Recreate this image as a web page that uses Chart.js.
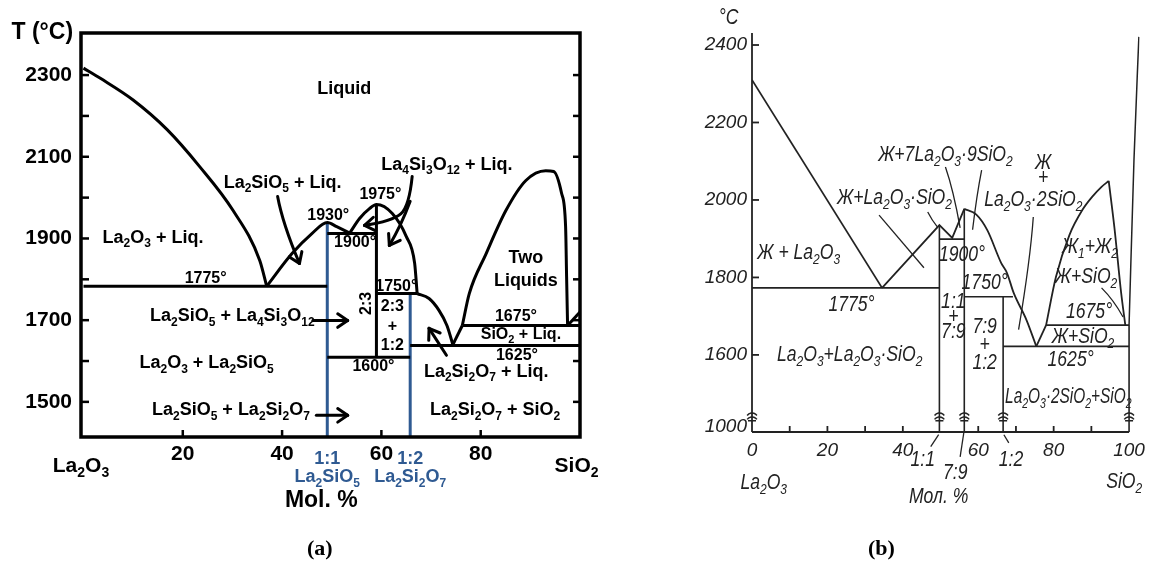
<!DOCTYPE html>
<html>
<head>
<meta charset="utf-8">
<title>La2O3–SiO2 phase diagrams</title>
<script src="https://cdn.jsdelivr.net/npm/chart.js@4.4.1/dist/chart.umd.min.js"></script>
<style>
  html, body { margin: 0; padding: 0; background: #fff; }
  #wrap { position: relative; width: 1152px; height: 572px; overflow: hidden; }
  .panel { position: absolute; top: 0; height: 572px; }
  #panelA { left: 0; width: 600px; }
  #panelB { left: 620px; width: 532px; }
  .tag { position: absolute; top: 535px; font: bold 22px "Liberation Serif", "Times New Roman", serif; }
</style>
</head>
<body>
<div id="wrap">
  <div class="panel" id="panelA"><canvas id="chartA"></canvas></div>
  <div class="panel" id="panelB"><canvas id="chartB"></canvas></div>
  <div class="tag" style="left:307px">(a)</div>
  <div class="tag" style="left:868px">(b)</div>
</div>
<script>
// ---- panel (a): mol.% SiO2 vs T (°C)
const xTicksA = [20, 40, 60, 80];
const yTicksA = [1500, 1700, 1900, 2100, 2300];
const yMinorA = [1600, 1800, 2000, 2200];

const liqLa2O3A = [[0, 2317], [3.4, 2292], [10, 2239], [16.8, 2167], [23.4, 2076], [30.1, 1969], [35.5, 1846], [36.9, 1783]];
const liqLa2SiO5A = [[36.9, 1783], [42, 1863], [46, 1912], [49.1, 1939], [51, 1929], [53.6, 1913]];
const liqLa4Si3O12A = [[53.6, 1913], [55.6, 1949], [57.6, 1973], [59, 1983], [62.2, 1961], [65, 1905], [66.7, 1839], [67.2, 1765]];
const liqLa2Si2O7A = [[67.2, 1765], [69.6, 1753], [71.6, 1724], [73.2, 1687], [74.4, 1640]];
const riseA = [[74.4, 1640], [76.3, 1687]];
const domeA = [[76.3, 1687], [77.7, 1765], [81.1, 1863], [85.1, 1969], [89.1, 2042], [93.1, 2066], [94.7, 2064], [96.3, 2010], [97.1, 1929], [97.3, 1807], [97.5, 1687]];
const liqSiO2A = [[97.5, 1687], [100, 1720]];
const iso1775A = [[0, 1783], [49.1, 1783]];
const iso1900A = [[49.1, 1912], [59, 1912]];
const iso1750A = [[59, 1765], [67.2, 1765]];
const iso1600A = [[49.1, 1609], [65.8, 1609]];
const iso1675A = [[76.3, 1687], [100, 1687]];
const iso1625A = [[65.8, 1638], [100, 1638]];
const comp23A = [[59, 1983], [59, 1609]];
const comp11A = [[49.1, 1414], [49.1, 1939]];
const comp12A = [[65.8, 1414], [65.8, 1765]];

const textsA = [
  ['T (°C)', -8.3, 2403, 'title'],
  ['Liquid', 52.5, 2265, 'region'],
  ['La_2O_3 + Liq.', 14, 1902, 'region'],
  ['1775°', 24.6, 1802, 'temp'],
  ['La_2SiO_5 + Liq.', 40.1, 2035, 'region'],
  ['1930°', 49.3, 1956, 'temp'],
  ['1975°', 59.8, 2008, 'temp'],
  ['1900°', 54.7, 1890, 'temp'],
  ['La_4Si_3O_12 + Liq.', 73.2, 2079, 'region'],
  ['Two', 89.1, 1851, 'region'],
  ['Liquids', 89.1, 1797, 'region'],
  ['1675°', 87.1, 1709, 'temp'],
  ['SiO_2 + Liq.', 88.1, 1665, 'small'],
  ['1625°', 87.3, 1614, 'temp'],
  ['La_2Si_2O_7 + Liq.', 81.1, 1574, 'region'],
  ['La_2Si_2O_7 + SiO_2', 82.9, 1479, 'region'],
  ['1750°', 63, 1782, 'temp'],
  ['2:3', 57, 1741, 'tempRot'],
  ['2:3', 62.2, 1734, 'temp'],
  ['+', 62.2, 1685, 'temp'],
  ['1:2', 62.2, 1638, 'temp'],
  ['1600°', 58.4, 1587, 'temp'],
  ['La_2SiO_5 + La_4Si_3O_12', 13.4, 1709, 'regionLeft'],
  ['La_2O_3 + La_2SiO_5', 24.8, 1594, 'region'],
  ['La_2SiO_5 + La_2Si_2O_7', 13.8, 1479, 'regionLeft'],
  ['La_2O_3', -0.5, 1342, 'end'],
  ['SiO_2', 99.3, 1342, 'end'],
  ['1:1', 49.1, 1361, 'blue'],
  ['La_2SiO_5', 49.1, 1315, 'blue'],
  ['1:2', 65.8, 1361, 'blue'],
  ['La_2Si_2O_7', 65.8, 1315, 'blue'],
  ['Mol. %', 47.9, 1259, 'title']
];

const arrowsA = [
  [[39.1, 2003], [40.1, 1937], [43.5, 1839]],
  [[66.2, 2052], [65.6, 1978], [62.2, 1942], [56.6, 1932]],
  [[65.8, 1991], [64, 1932], [61.6, 1883]],
  [[73.1, 1614], [69.6, 1680]],
  [[46.2, 1699], [53.2, 1699]],
  [[46.9, 1467], [53.2, 1467]]
];

// ---- panel (b): same system, older drawing with a broken T axis
const xTicksB = [0, 20, 40, 60, 80, 100];
const xMinorB = [10, 20, 30, 40, 60, 70, 80, 90];
const yTicksB = [1600, 1800, 2000, 2200, 2400];
const yBreakLabelB = '1000';
const yBreakValueB = 1414;
const breaksB = [0, 49.7, 56.3, 66.6, 100];

const liqLa2O3B = [[0, 2310], [34.5, 1773]];
const liqMidB = [[34.5, 1773], [49.7, 1935], [53.1, 1902], [56.3, 1977]];
const liqRightB = [[56.3, 1977], [59.5, 1962], [62.4, 1922], [66.1, 1837], [67.6, 1812], [69.4, 1760], [72.8, 1690], [75.4, 1622]];
const riseB = [[75.4, 1622], [78, 1677]];
const domeLeftB = [[78, 1677], [80.6, 1801], [84.2, 1910], [87.6, 1974], [90.2, 2008], [92.7, 2034], [94.6, 2049]];
const domeRightB = [[94.6, 2049], [96.1, 1930], [97.9, 1760], [99, 1677]];
const liqSiO2B = [[100, 1677], [101.3, 2103], [102.6, 2421]];
const iso1775B = [[0, 1773], [49.7, 1773]];
const iso1900B = [[49.7, 1899], [56.3, 1899]];
const iso1750B = [[56.3, 1750], [69.2, 1750]];
const iso1625B = [[66.6, 1622], [100, 1622]];
const iso1675B = [[78, 1677], [100, 1677]];
const comp11B = [[49.7, 1401], [49.7, 1935]];
const comp79B = [[56.3, 1401], [56.3, 1977]];
const comp12B = [[66.6, 1401], [66.6, 1750]];
const sio2B = [[100, 1401], [100, 1677]];

const textsB = [
  ['°C', -6.2, 2470],
  ['Ж + La_2O_3', 12.4, 1863],
  ['Ж+La_2O_3·SiO_2', 37.8, 2005],
  ['Ж+7La_2O_3·9SiO_2', 51.3, 2116],
  ['Ж', 77.2, 2095],
  ['+', 77.2, 2057],
  ['La_2O_3·2SiO_2', 74.6, 2000],
  ['1900°', 55.7, 1858],
  ['1750°', 61.7, 1786],
  ['Ж_1+Ж_2', 89.6, 1879],
  ['Ж+SiO_2', 88.6, 1801],
  ['1675°', 89.4, 1711],
  ['Ж+SiO_2', 87.8, 1646],
  ['1625°', 84.5, 1587],
  ['La_2O_3·2SiO_2+SiO_2', 83.9, 1492, 'narrow'],
  ['1775°', 26.4, 1729],
  ['La_2O_3+La_2O_3·SiO_2', 25.9, 1600],
  ['1:1', 53.4, 1737], ['+', 53.4, 1698], ['7:9', 53.4, 1659],
  ['7:9', 61.7, 1672], ['+', 61.7, 1626], ['1:2', 61.7, 1579],
  ['1:1', 45.3, 1329], ['7:9', 53.9, 1295], ['1:2', 68.7, 1329],
  ['Мол. %', 49.5, 1234],
  ['La_2O_3', 3.1, 1270],
  ['SiO_2', 98.7, 1272]
];

const pointersB = [
  [[33.7, 1961], [45.6, 1825]],
  [[46.6, 1969], [47.7, 1948], [49.2, 1930]],
  [[51.3, 2085], [53.4, 2026], [55.2, 1928]],
  [[60.9, 2077], [59.6, 2013], [58.5, 1923]],
  [[74.6, 1956], [73.8, 1845], [70.7, 1665]],
  [[92.7, 1773], [95.9, 1742], [98.4, 1698]],
  [[47.4, 1363], [49.5, 1394]],
  [[55.2, 1337], [56.2, 1401]],
  [[68.1, 1373], [66.8, 1394]]
];

// ---- drawing helpers
const SANS = '"Liberation Sans", Arial, Helvetica, sans-serif';
const BLUE = '#2f5a92';
const INK = '#222';

const stylesA = {
  title: { size: 23, weight: 'bold' },
  region: { size: 18, weight: 'bold' },
  regionLeft: { size: 18, weight: 'bold', align: 'left' },
  small: { size: 16, weight: 'bold' },
  temp: { size: 16, weight: 'bold' },
  tempRot: { size: 16, weight: 'bold', rotate: -Math.PI / 2 },
  end: { size: 21, weight: 'bold' },
  blue: { size: 18, weight: 'bold', color: BLUE }
};
const stylesB = {
  base: { size: 22, style: 'italic', sx: 0.8, color: INK },
  narrow: { size: 22, style: 'italic', sx: 0.7, color: INK }
};

// curved = smooth monotone spline through the read points
const series = (pts, color, width, curved) => ({
  data: pts.map(([x, y]) => ({ x, y })),
  showLine: true,
  borderColor: color,
  borderWidth: width,
  pointRadius: 0,
  cubicInterpolationMode: curved ? 'monotone' : 'default',
  tension: 0,
  fill: false
});

// text with numeric subscripts written as _2, _12 ...
const drawRich = (ctx, str, x, y, st) => {
  const size = st.size;
  const sub = Math.round(size * 0.68);
  const font = (sz) => `${st.style || 'normal'} ${st.weight || 'normal'} ${sz}px ${SANS}`;
  const parts = str.split(/(_\d+)/).filter(s => s).map(s =>
    s[0] === '_' ? { t: s.slice(1), sub: true } : { t: s, sub: false });
  let w = 0;
  parts.forEach(p => {
    ctx.font = font(p.sub ? sub : size);
    p.w = ctx.measureText(p.t).width;
    w += p.w;
  });
  ctx.save();
  ctx.translate(x, y);
  if (st.rotate) ctx.rotate(st.rotate);
  ctx.scale(st.sx || 1, 1);
  let cx = st.align === 'left' ? 0 : -w / 2;
  ctx.fillStyle = st.color || '#000';
  ctx.textAlign = 'left';
  ctx.textBaseline = 'middle';
  parts.forEach(p => {
    ctx.font = font(p.sub ? sub : size);
    ctx.fillText(p.t, cx, p.sub ? size * 0.32 : 0);
    cx += p.w;
  });
  ctx.restore();
};

const strokePath = (ctx, pts) => {
  ctx.beginPath();
  ctx.moveTo(pts[0][0], pts[0][1]);
  if (pts.length === 2) {
    ctx.lineTo(pts[1][0], pts[1][1]);
  } else {
    for (let i = 1; i < pts.length - 2; i++) {
      const mx = (pts[i][0] + pts[i + 1][0]) / 2;
      const my = (pts[i][1] + pts[i + 1][1]) / 2;
      ctx.quadraticCurveTo(pts[i][0], pts[i][1], mx, my);
    }
    const n = pts.length;
    ctx.quadraticCurveTo(pts[n - 2][0], pts[n - 2][1], pts[n - 1][0], pts[n - 1][1]);
  }
  ctx.stroke();
};

const seg = (ctx, x1, y1, x2, y2) => {
  ctx.beginPath();
  ctx.moveTo(x1, y1);
  ctx.lineTo(x2, y2);
  ctx.stroke();
};

const axis = (min, max, ticks, font, pad, size, isX, label) => ({
  type: 'linear',
  min: min,
  max: max,
  grid: { display: false, drawTicks: false },
  border: { display: false },
  ticks: {
    font: font,
    color: font.color || '#000',
    padding: pad,
    autoSkip: false,
    maxRotation: 0,
    callback: label || ((v) => String(v))
  },
  afterBuildTicks: (s) => { s.ticks = ticks.map(v => ({ value: v })); },
  afterFit: (s) => { if (isX) s.height = size; else s.width = size; }
});

const baseOptions = (padding, scales) => ({
  responsive: true,
  maintainAspectRatio: false,
  animation: false,
  layout: { padding: padding },
  plugins: { legend: { display: false }, tooltip: { enabled: false } },
  scales: scales
});

// ---- panel (a)
const decorA = {
  id: 'decorA',
  afterDraw(chart) {
    const { ctx, chartArea: a, scales: { x, y } } = chart;
    ctx.save();
    ctx.strokeStyle = '#000';
    ctx.lineWidth = 3.5;
    ctx.strokeRect(a.left, a.top, a.right - a.left, a.bottom - a.top);
    ctx.lineWidth = 2.5;
    [...yTicksA, ...yMinorA].forEach(v => {
      const py = y.getPixelForValue(v);
      seg(ctx, a.left, py, a.left + 8, py);
      seg(ctx, a.right, py, a.right - 7, py);
    });
    xTicksA.forEach(v => {
      const px = x.getPixelForValue(v);
      seg(ctx, px, a.bottom, px, a.bottom - 7);
    });

    ctx.lineWidth = 3;
    ctx.lineCap = 'round';
    ctx.lineJoin = 'round';
    arrowsA.forEach(path => {
      const pts = path.map(([vx, vy]) => [x.getPixelForValue(vx), y.getPixelForValue(vy)]);
      strokePath(ctx, pts);
      const [ex, ey] = pts[pts.length - 1];
      const [sx, sy] = pts[pts.length - 2];
      const ang = Math.atan2(ey - sy, ex - sx);
      [-0.6, 0.6].forEach(d => seg(ctx, ex, ey, ex - 12 * Math.cos(ang + d), ey - 12 * Math.sin(ang + d)));
    });

    textsA.forEach(([t, vx, vy, key]) => {
      drawRich(ctx, t, x.getPixelForValue(vx), y.getPixelForValue(vy), stylesA[key]);
    });
    ctx.restore();
  }
};

const fontTickA = { family: SANS, weight: 'bold', size: 21 };

new Chart(document.getElementById('chartA'), {
  type: 'scatter',
  data: {
    datasets: [
      series(liqLa2O3A, '#000', 3, true),
      series(liqLa2SiO5A, '#000', 3, true),
      series(liqLa4Si3O12A, '#000', 3, true),
      series(liqLa2Si2O7A, '#000', 3, true),
      series(riseA, '#000', 3),
      series(domeA, '#000', 3, true),
      series(liqSiO2A, '#000', 3),
      series(iso1775A, '#000', 3),
      series(iso1900A, '#000', 3),
      series(iso1750A, '#000', 3),
      series(iso1600A, '#000', 3),
      series(iso1675A, '#000', 3),
      series(iso1625A, '#000', 3),
      series(comp23A, '#000', 3),
      series(comp11A, BLUE, 3),
      series(comp12A, BLUE, 3)
    ]
  },
  options: baseOptions({ top: 33, right: 20, left: 0, bottom: 0 }, {
    x: axis(-0.5, 100, xTicksA, fontTickA, 5, 135, true),
    y: axis(1414, 2403, yTicksA, fontTickA, 9, 81, false)
  }),
  plugins: [decorA]
});

// ---- panel (b)
const decorB = {
  id: 'decorB',
  afterDraw(chart) {
    const { ctx, chartArea: a, scales: { x, y } } = chart;
    const X = (v) => x.getPixelForValue(v);
    const Y = (v) => y.getPixelForValue(v);
    ctx.save();
    ctx.strokeStyle = INK;
    ctx.lineWidth = 1.8;
    seg(ctx, X(0), a.top, X(0), a.bottom);
    seg(ctx, X(0), a.bottom, X(100), a.bottom);
    yTicksB.forEach(v => seg(ctx, X(0), Y(v), X(0) + 7, Y(v)));
    xMinorB.forEach(v => seg(ctx, X(v), a.bottom, X(v), a.bottom - 6));

    // axis breaks
    ctx.lineWidth = 1.5;
    breaksB.forEach(v => {
      const px = X(v);
      ctx.beginPath();
      ctx.arc(px, Y(1450) + 6, 6, Math.PI * 1.2, Math.PI * 1.8);
      ctx.stroke();
      ctx.beginPath();
      ctx.arc(px, Y(1440) + 6, 6, Math.PI * 1.2, Math.PI * 1.8);
      ctx.stroke();
      seg(ctx, px - 4, Y(1430), px + 4, Y(1430));
    });

    ctx.lineWidth = 1.3;
    pointersB.forEach(path => {
      strokePath(ctx, path.map(([vx, vy]) => [X(vx), Y(vy)]));
    });

    textsB.forEach(([t, vx, vy, key]) => {
      drawRich(ctx, t, X(vx), Y(vy), stylesB[key || 'base']);
    });
    ctx.restore();
  }
};

const fontTickB = { family: SANS, style: 'italic', size: 19, color: INK };

new Chart(document.getElementById('chartB'), {
  type: 'scatter',
  data: {
    datasets: [
      series(liqLa2O3B, INK, 1.8),
      series(liqMidB, INK, 1.8),
      series(liqRightB, INK, 1.8, true),
      series(riseB, INK, 1.8),
      series(domeLeftB, INK, 1.8, true),
      series(domeRightB, INK, 1.8, true),
      series(liqSiO2B, INK, 1.5, true),
      series(iso1775B, INK, 1.6),
      series(iso1900B, INK, 1.6),
      series(iso1750B, INK, 1.6),
      series(iso1625B, INK, 1.6),
      series(iso1675B, INK, 1.6),
      series(comp11B, INK, 1.6),
      series(comp79B, INK, 1.6),
      series(comp12B, INK, 1.6),
      series(sio2B, INK, 1.6)
    ]
  },
  options: baseOptions({ top: 33, right: 3, left: 0, bottom: 0 }, {
    x: axis(0, 102.8, xTicksB, fontTickB, 7, 140, true),
    y: axis(1401, 2431, [yBreakValueB, ...yTicksB], fontTickB, 5, 132, false,
      (v) => (v === yBreakValueB ? yBreakLabelB : String(v)))
  }),
  plugins: [decorB]
});
</script>
</body>
</html>
